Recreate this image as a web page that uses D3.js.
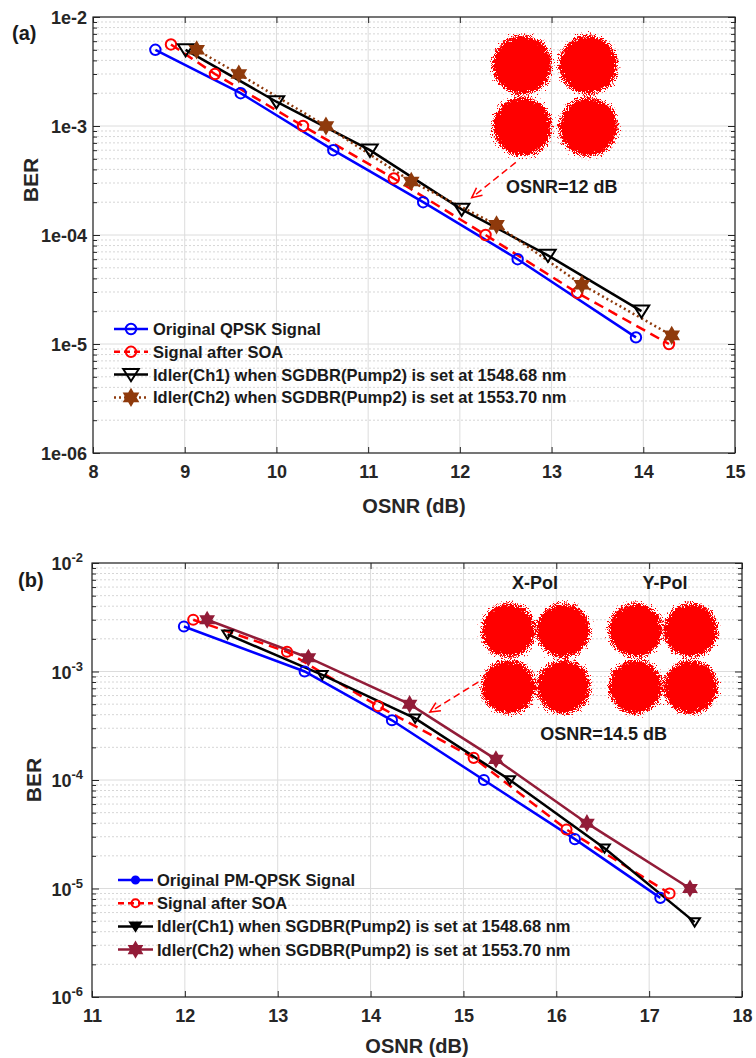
<!DOCTYPE html>
<html>
<head>
<meta charset="utf-8">
<script src="https://cdn.jsdelivr.net/npm/d3@7"></script>
<style>
  html, body { margin: 0; padding: 0; background: #fff; }
  svg { display: block; font-family: "Liberation Sans", Arial, Helvetica, sans-serif; font-weight: bold; }
</style>
</head>
<body>
<svg id="chart" width="756" height="1058"></svg>
<script>
// ---- panel (a): QPSK ----
const osnrA_orig = [8.68, 9.61, 10.62, 11.60, 12.63, 13.92];
const berA_orig  = [5.0e-3, 2.0e-3, 6.0e-4, 2.0e-4, 6.0e-5, 1.15e-5];
const osnrA_soa  = [8.85, 9.33, 10.29, 11.28, 12.28, 13.28, 14.28];
const berA_soa   = [5.6e-3, 3.0e-3, 1.0e-3, 3.3e-4, 1.0e-4, 2.95e-5, 1.0e-5];
const osnrA_ch1  = [9.01, 10.0, 11.02, 12.02, 12.96, 13.98];
const berA_ch1   = [5.0e-3, 1.67e-3, 6.0e-4, 1.72e-4, 6.5e-5, 2.0e-5];
const osnrA_ch2  = [9.13, 9.59, 10.54, 11.47, 12.40, 13.33, 14.31];
const berA_ch2   = [5.0e-3, 3.0e-3, 1.0e-3, 3.1e-4, 1.24e-4, 3.5e-5, 1.2e-5];
const labelsA = [
  "Original QPSK Signal",
  "Signal after SOA",
  "Idler(Ch1) when SGDBR(Pump2) is set at 1548.68 nm",
  "Idler(Ch2) when SGDBR(Pump2) is set at 1553.70 nm"
];
const xTicksA = [8, 9, 10, 11, 12, 13, 14, 15];
const yTicksA = [1e-2, 1e-3, 1e-4, 1e-5, 1e-6];
const yTickLabelsA = ["1e-2", "1e-3", "1e-04", "1e-5", "1e-06"];

// ---- panel (b): PM-QPSK ----
const osnrB_orig = [11.99, 13.29, 14.23, 15.22, 16.20, 17.12];
const berB_orig  = [2.6e-3, 1.0e-3, 3.55e-4, 1.0e-4, 2.85e-5, 8.2e-6];
const osnrB_soa  = [12.09, 13.10, 14.08, 15.11, 16.11, 17.22];
const berB_soa   = [3.0e-3, 1.52e-3, 4.8e-4, 1.6e-4, 3.5e-5, 9.0e-6];
const osnrB_ch1  = [12.46, 13.48, 14.48, 15.50, 16.52, 17.49];
const berB_ch1   = [2.2e-3, 9.3e-4, 3.7e-4, 1.0e-4, 2.35e-5, 4.9e-6];
const osnrB_ch2  = [12.24, 13.33, 14.42, 15.35, 16.33, 17.44];
const berB_ch2   = [3.0e-3, 1.34e-3, 5.0e-4, 1.55e-4, 4.0e-5, 1.0e-5];
const labelsB = [
  "Original PM-QPSK Signal",
  "Signal after SOA",
  "Idler(Ch1) when SGDBR(Pump2) is set at 1548.68 nm",
  "Idler(Ch2) when SGDBR(Pump2) is set at 1553.70 nm"
];
const xTicksB = [11, 12, 13, 14, 15, 16, 17, 18];
const yTicksB = [1e-2, 1e-3, 1e-4, 1e-5, 1e-6];
const yTickExpB = ["-2", "-3", "-4", "-5", "-6"];

// QPSK constellation points (I, Q)
const constellationIQ = [[-1, 1], [1, 1], [-1, -1], [1, -1]];

const svg = d3.select("#chart");
const TXT = "#262626";

// speckled edge for the constellation clouds
const defs = svg.append("defs");
const filt = defs.append("filter").attr("id", "speckle")
  .attr("x", "-40%").attr("y", "-40%").attr("width", "180%").attr("height", "180%");
filt.append("feTurbulence").attr("type", "fractalNoise")
  .attr("baseFrequency", 1.3).attr("numOctaves", 2).attr("seed", 3).attr("result", "noise");
filt.append("feDisplacementMap").attr("in", "SourceGraphic").attr("in2", "noise")
  .attr("scale", 15).attr("xChannelSelector", "R").attr("yChannelSelector", "G");

// custom markers
const triDown = {
  draw(ctx, size) {
    const r = Math.sqrt(size);
    ctx.moveTo(-r, -r * 0.72);
    ctx.lineTo(r, -r * 0.72);
    ctx.lineTo(0, r * 0.85);
    ctx.closePath();
  }
};
const hexagram = {
  draw(ctx, size) {
    const R = Math.sqrt(size), ri = R / Math.sqrt(3);
    for (let i = 0; i < 12; i++) {
      const a = -Math.PI / 2 + i * Math.PI / 6;
      const rr = i % 2 ? ri : R;
      if (i === 0) ctx.moveTo(rr * Math.cos(a), rr * Math.sin(a));
      else ctx.lineTo(rr * Math.cos(a), rr * Math.sin(a));
    }
    ctx.closePath();
  }
};

function minorTicks() {
  const out = [];
  for (let e = -6; e < -2; e++) for (let m = 2; m <= 9; m++) out.push(m * Math.pow(10, e));
  return out;
}

function drawPanel(cfg) {
  const g = svg.append("g");
  const x = d3.scaleLinear().domain(cfg.xDomain).range([cfg.left, cfg.right]);
  const y = d3.scaleLog().domain([1e-6, 1e-2]).range([cfg.bottom, cfg.top]);
  const minors = minorTicks();

  // grid
  g.append("g").selectAll("line").data(minors).join("line")
    .attr("x1", cfg.left).attr("x2", cfg.right)
    .attr("y1", d => y(d)).attr("y2", d => y(d))
    .attr("stroke", "#d6d6d6").attr("stroke-width", 1).attr("stroke-dasharray", "2,2");
  g.append("g").selectAll("line").data(cfg.yTicks).join("line")
    .attr("x1", cfg.left).attr("x2", cfg.right)
    .attr("y1", d => y(d)).attr("y2", d => y(d))
    .attr("stroke", "#dcdcdc").attr("stroke-width", 1);
  g.append("g").selectAll("line").data(cfg.xTicks).join("line")
    .attr("x1", d => x(d)).attr("x2", d => x(d))
    .attr("y1", cfg.top).attr("y2", cfg.bottom)
    .attr("stroke", "#dcdcdc").attr("stroke-width", 1);

  // axes (ticks pointing inward)
  const axBottom = g.append("g").attr("transform", `translate(0,${cfg.bottom})`)
    .call(d3.axisBottom(x).tickValues(cfg.xTicks).tickSize(-6).tickPadding(12).tickFormat(d3.format("d")));
  axBottom.selectAll("text").style("font-size", "18px").style("fill", TXT);
  g.append("g").attr("transform", `translate(0,${cfg.top})`)
    .call(d3.axisTop(x).tickValues(cfg.xTicks).tickSize(-6).tickFormat(""));
  g.append("g").attr("transform", `translate(${cfg.left},0)`)
    .call(d3.axisLeft(y).tickValues(cfg.yTicks).tickSize(-7).tickFormat(""));
  g.append("g").attr("transform", `translate(${cfg.left},0)`)
    .call(d3.axisLeft(y).tickValues(minors).tickSize(-4).tickFormat(""));
  g.append("g").attr("transform", `translate(${cfg.right},0)`)
    .call(d3.axisRight(y).tickValues(cfg.yTicks).tickSize(-7).tickFormat(""));
  g.append("g").attr("transform", `translate(${cfg.right},0)`)
    .call(d3.axisRight(y).tickValues(minors).tickSize(-4).tickFormat(""));
  g.selectAll(".domain").remove();
  g.selectAll(".tick line").attr("stroke", TXT);

  // y tick labels
  const yl = g.append("g").selectAll("text").data(cfg.yTicks).join("text")
    .attr("x", cfg.left - cfg.yLabelGap)
    .attr("y", d => y(d) + 7)
    .attr("text-anchor", "end")
    .style("font-size", "18px").style("fill", TXT);
  if (cfg.yTickLabels) {
    yl.text((d, i) => cfg.yTickLabels[i]);
  } else {
    yl.append("tspan").text("10");
    yl.append("tspan").attr("dy", -8).style("font-size", "13px").text((d, i) => cfg.yTickExp[i]);
  }

  g.append("rect")
    .attr("x", cfg.left).attr("y", cfg.top)
    .attr("width", cfg.right - cfg.left).attr("height", cfg.bottom - cfg.top)
    .attr("fill", "none").attr("stroke", TXT).attr("stroke-width", 1.2);

  // series
  const line = d3.line().x(d => x(d[0])).y(d => y(d[1]));
  cfg.series.forEach(s => {
    const pts = s.xs.map((v, i) => [v, s.ys[i]]);
    g.append("path").datum(pts)
      .attr("d", line)
      .attr("fill", "none")
      .attr("stroke", s.color)
      .attr("stroke-width", s.width || 2.5)
      .attr("stroke-dasharray", s.dash || null)
      .attr("stroke-linecap", s.cap || "butt");
  });
  cfg.series.forEach(s => {
    const pts = s.xs.map((v, i) => [v, s.ys[i]]);
    g.append("g").selectAll("path").data(pts).join("path")
      .attr("transform", d => `translate(${x(d[0])},${y(d[1])})`)
      .attr("d", d3.symbol().type(s.marker).size(s.size))
      .attr("fill", s.fill)
      .attr("stroke", s.color)
      .attr("stroke-width", 2);
  });

  // legend
  const lg = g.append("g");
  cfg.series.forEach((s, i) => {
    const ly = cfg.legend.y + i * cfg.legend.step;
    lg.append("line")
      .attr("x1", cfg.legend.x0).attr("x2", cfg.legend.x1)
      .attr("y1", ly).attr("y2", ly)
      .attr("stroke", s.color).attr("stroke-width", s.width || 2.5)
      .attr("stroke-dasharray", s.legendDash || s.dash || null)
      .attr("stroke-linecap", s.cap || "butt");
    lg.append("path")
      .attr("transform", `translate(${(cfg.legend.x0 + cfg.legend.x1) / 2},${ly})`)
      .attr("d", d3.symbol().type(s.marker).size(s.legendSize || s.size))
      .attr("fill", s.legendFill || s.fill)
      .attr("stroke", s.color).attr("stroke-width", 2);
    lg.append("text")
      .attr("x", cfg.legend.tx).attr("y", ly + 6)
      .style("font-size", "16.5px").style("fill", "#1a1a1a")
      .text(s.label);
  });

  // constellation clouds
  cfg.clouds.forEach(c => {
    const cx = x(c.osnr), cy = y(c.ber);
    g.append("g").attr("filter", "url(#speckle)")
      .selectAll("circle").data(constellationIQ).join("circle")
      .attr("cx", d => cx + d[0] * c.dx)
      .attr("cy", d => cy - d[1] * c.dy)
      .attr("r", c.r)
      .attr("fill", "#ff0000");
  });

  // annotation texts
  cfg.notes.forEach(n => {
    g.append("text")
      .attr("x", x(n.osnr)).attr("y", y(n.ber))
      .attr("text-anchor", "middle")
      .style("font-size", "18px").style("fill", "#1a1a1a")
      .text(n.text);
  });

  // dashed arrow
  const a = cfg.arrow;
  const x1 = x(a.from[0]), y1 = y(a.from[1]), x2 = x(a.to[0]), y2 = y(a.to[1]);
  g.append("line")
    .attr("x1", x1).attr("y1", y1).attr("x2", x2).attr("y2", y2)
    .attr("stroke", "#ff0000").attr("stroke-width", 1.5).attr("stroke-dasharray", "7,4");
  const ang = Math.atan2(y2 - y1, x2 - x1);
  const head = 11, spread = 0.45;
  g.append("path")
    .attr("d", `M${x2 - head * Math.cos(ang - spread)},${y2 - head * Math.sin(ang - spread)}
                L${x2},${y2}
                L${x2 - head * Math.cos(ang + spread)},${y2 - head * Math.sin(ang + spread)}`)
    .attr("fill", "none").attr("stroke", "#ff0000").attr("stroke-width", 1.6);

  // axis titles and panel tag
  g.append("text")
    .attr("x", (cfg.left + cfg.right) / 2).attr("y", cfg.xTitleY)
    .attr("text-anchor", "middle")
    .style("font-size", "20px").style("fill", TXT)
    .text("OSNR (dB)");
  g.append("text")
    .attr("transform", `translate(${cfg.yTitle[0]},${cfg.yTitle[1]}) rotate(-90)`)
    .attr("text-anchor", "middle")
    .style("font-size", "21px").style("fill", TXT)
    .text("BER");
  g.append("text")
    .attr("x", cfg.tag[0]).attr("y", cfg.tag[1])
    .style("font-size", "20px").style("fill", "#1a1a1a")
    .text(cfg.tagText);
}

drawPanel({
  left: 93, right: 735, top: 17, bottom: 453,
  xDomain: [8, 15], xTicks: xTicksA, yTicks: yTicksA, yTickLabels: yTickLabelsA, yLabelGap: 6,
  series: [
    { xs: osnrA_orig, ys: berA_orig, color: "#0000ff", marker: d3.symbolCircle, size: 85, fill: "none", label: labelsA[0] },
    { xs: osnrA_soa, ys: berA_soa, color: "#ff0000", dash: "10,6", legendDash: "6,4", marker: d3.symbolCircle, size: 85, fill: "none", label: labelsA[1] },
    { xs: osnrA_ch1, ys: berA_ch1, color: "#000000", marker: triDown, size: 60, fill: "none", label: labelsA[2] },
    { xs: osnrA_ch2, ys: berA_ch2, color: "#8f3a0c", dash: "2,3", marker: hexagram, size: 58, fill: "#8f3a0c", label: labelsA[3] }
  ],
  legend: { y: 329, step: 22.8, x0: 114, x1: 148, tx: 153 },
  clouds: [{ osnr: 13.04, ber: 1.89e-3, dx: 33, dy: 31, r: 29.5 }],
  notes: [{ osnr: 13.11, ber: 2.43e-4, text: "OSNR=12 dB" }],
  arrow: { from: [12.61, 4.64e-4], to: [12.13, 2.2e-4] },
  xTitleY: 513, yTitle: [38, 180],
  tag: [12, 40], tagText: "(a)"
});

drawPanel({
  left: 92, right: 742, top: 563, bottom: 997,
  xDomain: [11, 18], xTicks: xTicksB, yTicks: yTicksB, yTickExp: yTickExpB, yLabelGap: 9,
  series: [
    { xs: osnrB_orig, ys: berB_orig, color: "#0000ff", marker: d3.symbolCircle, size: 80, fill: "none", legendFill: "#0000ff", legendSize: 40, label: labelsB[0] },
    { xs: osnrB_soa, ys: berB_soa, color: "#ff0000", dash: "10,6", legendDash: "6,4", marker: d3.symbolCircle, size: 80, fill: "none", legendSize: 50, label: labelsB[1] },
    { xs: osnrB_ch1, ys: berB_ch1, color: "#000000", marker: triDown, size: 28, fill: "none", legendFill: "#000000", label: labelsB[2] },
    { xs: osnrB_ch2, ys: berB_ch2, color: "#921c38", marker: hexagram, size: 50, fill: "#921c38", label: labelsB[3] }
  ],
  legend: { y: 880, step: 23.2, x0: 118, x1: 153, tx: 157 },
  clouds: [
    { osnr: 15.78, ber: 1.315e-3, dx: 27.5, dy: 28.3, r: 27 },
    { osnr: 17.15, ber: 1.315e-3, dx: 27.5, dy: 28.3, r: 27 }
  ],
  notes: [
    { osnr: 15.77, ber: 5.8e-3, text: "X-Pol" },
    { osnr: 17.17, ber: 5.8e-3, text: "Y-Pol" },
    { osnr: 16.51, ber: 2.32e-4, text: "OSNR=14.5 dB" }
  ],
  arrow: { from: [15.16, 8.0e-4], to: [14.64, 4.24e-4] },
  xTitleY: 1053, yTitle: [41, 780],
  tag: [18, 587], tagText: "(b)"
});
</script>
</body>
</html>
